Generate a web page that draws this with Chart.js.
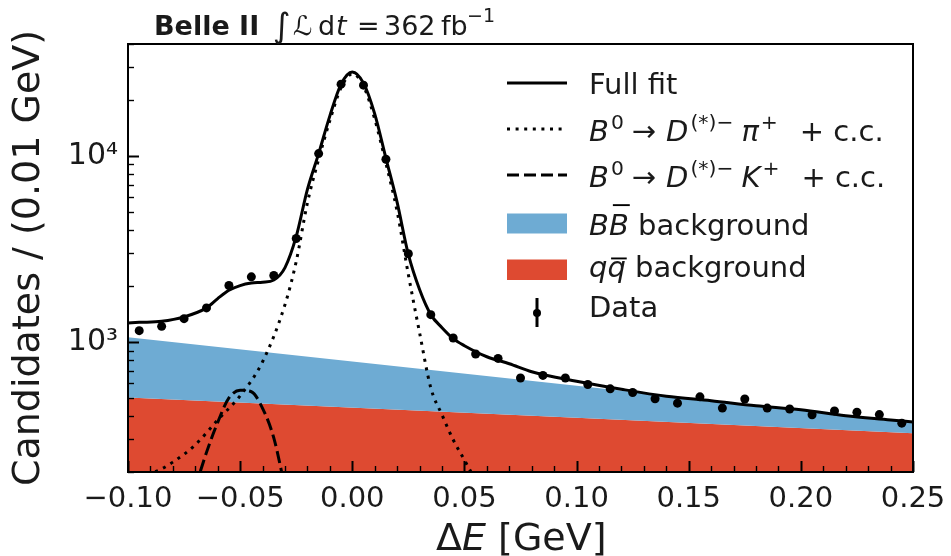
<!DOCTYPE html>
<html lang="en">
<head>
<meta charset="UTF-8">
<title>Belle II Delta E fit</title>
<script src="https://cdn.jsdelivr.net/npm/chart.js"></script>
<style>
  html, body { margin: 0; padding: 0; background: #fff; }
</style>
</head>
<body>
<canvas id="deChart" width="951" height="556"></canvas>
<script>
// Data points: bin centres in GeV and candidates per 0.01 GeV
const binCentres = [-0.095, -0.085, -0.075, -0.065, -0.055, -0.045, -0.035, -0.025, -0.015, -0.005,
                    0.005, 0.015, 0.025, 0.035, 0.045, 0.055, 0.065, 0.075, 0.085, 0.095,
                    0.105, 0.115, 0.125, 0.135, 0.145, 0.155, 0.165, 0.175, 0.185, 0.195,
                    0.205, 0.215, 0.225, 0.235, 0.245];
const dataCounts = [1151, 1214, 1335, 1525, 2011, 2240, 2276, 3602, 10300, 24340,
                    24040, 9600, 2980, 1403, 1051, 862, 816, 640, 661, 640,
                    591, 560, 535, 495, 469, 507, 441, 494, 441, 436,
                    406, 426, 419, 407, 366];

// Full fit curve
const fitX = [-0.100, -0.095, -0.085, -0.075, -0.065, -0.060, -0.055, -0.050, -0.045, -0.040,
              -0.035, -0.030, -0.025, -0.020, -0.015, -0.010, -0.005, 0.000, 0.005, 0.010,
              0.015, 0.020, 0.025, 0.030, 0.035, 0.040, 0.045, 0.050, 0.060, 0.070,
              0.080, 0.100, 0.120, 0.140, 0.160, 0.180, 0.200, 0.220, 0.240, 0.250];
const fitY = [1266, 1275, 1291, 1364, 1525, 1711, 1897, 2011, 2074, 2095,
              2153, 2511, 3693, 6616, 10300, 16430, 24340, 28300, 24640, 16840,
              9720, 5630, 2954, 1913, 1403, 1194, 1042, 955, 833, 764,
              692, 615, 557, 511, 483, 454, 432, 401, 381, 371];

// B0 -> D(*)- pi+ component
const piX = [-0.095, -0.085, -0.080, -0.070, -0.060, -0.050, -0.040, -0.030, -0.025, -0.020,
             -0.015, -0.010, -0.005, 0.000, 0.005, 0.010, 0.015, 0.020, 0.025, 0.030,
             0.035, 0.040, 0.045, 0.050, 0.055];
const piY = [186, 208, 226, 280, 381, 514, 783, 1589, 2709, 5600,
             9600, 15500, 23300, 27600, 23800, 15800, 9135, 5035, 2305, 1122,
             567, 406, 298, 232, 180];

// B0 -> D(*)- K+ component
const kX = [-0.070, -0.065, -0.060, -0.055, -0.050, -0.045, -0.040, -0.035, -0.030];
const kY = [165, 255, 370, 500, 550, 540, 440, 305, 165];

// Stacked backgrounds (top edge of each band)
const bkgX = [-0.10, 0.10, 0.25];
const qqTop = [503, 391, 323];
const bbTop = [1059, 581, 370];

const xTicks = [-0.10, -0.05, 0.00, 0.05, 0.10, 0.15, 0.20, 0.25];
const yTicks = [1000, 10000];
const yTickLabels = ['10³', '10⁴'];

const FONT = '"DejaVu Sans", sans-serif';
const BLUE = '#6eabd3';
const RED = '#de4a31';
const INK = '#1a1a1a';

const pts = (xs, ys) => xs.map((x, i) => ({ x: x, y: ys[i] }));

// draws a run of text pieces: [text, style, overline] or a number (gap in px)
function richText(ctx, x, y, parts, size) {
    let cx = x;
    parts.forEach(p => {
        if (typeof p === 'number') { cx += p; return; }
        const t = p[0], st = p[1] || '', ov = p[2];
        const sup = st.includes('s');
        const fs = sup ? size * 0.7 : size;
        ctx.font = (st.includes('i') ? 'italic ' : '') + (st.includes('b') ? 'bold ' : '') + fs + 'px ' + FONT;
        ctx.fillText(t, cx, sup ? y - size * 0.42 : y);
        const w = ctx.measureText(t).width;
        if (ov) {
            ctx.lineWidth = size * 0.065;
            ctx.beginPath();
            ctx.moveTo(cx + w * 0.2, y - ov * size);
            ctx.lineTo(cx + w * 1.05, y - ov * size);
            ctx.stroke();
        }
        cx += w;
    });
    return cx;
}

const decayText = last => [['B', 'i'], 2, ['0', 's'], 8, ['→'], 10, ['D', 'i'], 2, ['(*)−', 's'], 8,
                           [last, 'i'], 2, ['+', 's'], 22, ['+ c.c.']];

const decorations = {
    id: 'decorations',
    afterDatasetsDraw(chart) {
        const { ctx, chartArea: a, scales: { x, y } } = chart;
        ctx.save();
        ctx.strokeStyle = '#000';
        ctx.lineCap = 'butt';

        // inward ticks, bottom axis
        for (let i = 0; i <= 35; i++) {
            const v = -0.10 + i * 0.01;
            const px = Math.round(x.getPixelForValue(v)) + 0.5;
            const major = i % 5 === 0;
            ctx.lineWidth = major ? 2 : 1.4;
            ctx.beginPath();
            ctx.moveTo(px, a.bottom);
            ctx.lineTo(px, a.bottom - (major ? 11 : 6));
            ctx.stroke();
        }
        // inward ticks, left axis (log)
        for (let d = 100; d <= 10000; d *= 10) {
            for (let m = 1; m <= 9; m++) {
                const v = d * m;
                if (v < y.min || v > y.max) continue;
                const py = Math.round(y.getPixelForValue(v)) + 0.5;
                const major = m === 1;
                ctx.lineWidth = major ? 2 : 1.4;
                ctx.beginPath();
                ctx.moveTo(a.left, py);
                ctx.lineTo(a.left + (major ? 11 : 6), py);
                ctx.stroke();
            }
        }
        // frame
        ctx.lineWidth = 2;
        ctx.strokeRect(a.left, a.top, a.right - a.left, a.bottom - a.top);

        ctx.fillStyle = INK;
        ctx.textBaseline = 'alphabetic';
        ctx.textAlign = 'left';

        // heading
        ctx.font = 'bold 27px ' + FONT;
        ctx.fillText('Belle II', 154, 35);
        ctx.font = '34px ' + FONT;
        ctx.fillText('∫', 273, 37);
        ctx.font = '27px ' + FONT;
        ctx.fillText('ℒ', 293, 35);
        ctx.fillText('d', 318, 35);
        ctx.font = 'italic 27px ' + FONT;
        ctx.fillText('t', 336, 35);
        ctx.font = '27px ' + FONT;
        ctx.fillText('=', 357, 35);
        ctx.fillText('362', 384, 35);
        ctx.fillText('fb', 441, 35);
        ctx.font = '19px ' + FONT;
        ctx.fillText('−1', 467, 22);

        // x axis title
        richText(ctx, 436, 550, [['Δ'], ['E', 'i'], [' [GeV]']], 38);

        // legend
        const sx0 = 507, sx1 = 567, tx = 589, fs = 29;
        ctx.lineWidth = 3;
        ctx.strokeStyle = '#000';
        const lineSample = (yy, dash) => {
            ctx.setLineDash(dash);
            ctx.beginPath();
            ctx.moveTo(sx0, yy);
            ctx.lineTo(sx1, yy);
            ctx.stroke();
            ctx.setLineDash([]);
        };
        lineSample(83, []);
        richText(ctx, tx, 94, [['Full fit']], fs);

        lineSample(129, [3, 5.6]);
        richText(ctx, tx, 141, decayText('π'), fs);

        lineSample(175, [12, 5]);
        richText(ctx, tx, 187, decayText('K'), fs);

        ctx.fillStyle = BLUE;
        ctx.fillRect(sx0, 213.5, sx1 - sx0, 20);
        ctx.fillStyle = INK;
        richText(ctx, tx, 235, [['B', 'i'], ['B', 'i', 1.03], [' background']], fs);

        ctx.fillStyle = RED;
        ctx.fillRect(sx0, 259.5, sx1 - sx0, 20.5);
        ctx.fillStyle = INK;
        richText(ctx, tx, 277, [['q', 'i'], ['q', 'i', 0.64], [' background']], fs);

        ctx.lineWidth = 3;
        ctx.beginPath();
        ctx.moveTo(537, 298);
        ctx.lineTo(537, 327);
        ctx.stroke();
        ctx.fillStyle = '#000';
        ctx.beginPath();
        ctx.arc(537, 313, 4, 0, Math.PI * 2);
        ctx.fill();
        ctx.fillStyle = INK;
        richText(ctx, tx, 317, [['Data']], fs);

        ctx.restore();
    }
};

const ctx = document.getElementById('deChart').getContext('2d');
const deChart = new Chart(ctx, {
    type: 'line',
    data: {
        datasets: [
            {
                label: 'Data',
                data: pts(binCentres, dataCounts),
                showLine: false,
                pointRadius: 4.5,
                pointBackgroundColor: '#000',
                pointBorderWidth: 0
            },
            {
                label: 'Full fit',
                data: pts(fitX, fitY),
                borderColor: '#000',
                borderWidth: 3,
                pointRadius: 0,
                cubicInterpolationMode: 'monotone',
                fill: false
            },
            {
                label: 'B0 -> D(*)- K+ + c.c.',
                data: pts(kX, kY),
                borderColor: '#000',
                borderWidth: 3,
                borderDash: [12, 5],
                pointRadius: 0,
                cubicInterpolationMode: 'monotone',
                fill: false
            },
            {
                label: 'B0 -> D(*)- pi+ + c.c.',
                data: pts(piX, piY),
                borderColor: '#000',
                borderWidth: 3,
                borderDash: [3, 5.6],
                pointRadius: 0,
                cubicInterpolationMode: 'monotone',
                fill: false
            },
            {
                label: 'BB background',
                data: pts(bkgX, bbTop),
                borderWidth: 0,
                borderColor: BLUE,
                backgroundColor: BLUE,
                pointRadius: 0,
                fill: '+1'
            },
            {
                label: 'qq background',
                data: pts(bkgX, qqTop),
                borderWidth: 0,
                borderColor: RED,
                backgroundColor: RED,
                pointRadius: 0,
                fill: 'start'
            }
        ]
    },
    options: {
        responsive: false,
        animation: false,
        devicePixelRatio: 1,
        layout: { padding: { left: 0, right: 38, top: 44, bottom: 0 } },
        plugins: {
            legend: { display: false },
            tooltip: { enabled: false }
        },
        scales: {
            x: {
                type: 'linear',
                min: -0.10,
                max: 0.25,
                grid: { display: false, drawTicks: false, tickLength: 0 },
                border: { display: false },
                afterBuildTicks: s => { s.ticks = xTicks.map(v => ({ value: v })); },
                afterFit: s => { s.height = 84; s.paddingLeft = 0; s.paddingRight = 0; },
                ticks: {
                    autoSkip: false,
                    maxRotation: 0,
                    minRotation: 0,
                    padding: 10,
                    color: INK,
                    font: { family: FONT, size: 29 },
                    callback: v => Math.abs(v) < 1e-9 ? '0.00' : v.toFixed(2).replace('-', '−')
                }
            },
            y: {
                type: 'logarithmic',
                min: 200,
                max: 40000,
                grid: { display: false, drawTicks: false, tickLength: 0 },
                border: { display: false },
                afterBuildTicks: s => { s.ticks = yTicks.map(v => ({ value: v })); },
                afterFit: s => { s.width = 128; s.paddingTop = 0; s.paddingBottom = 0; },
                ticks: {
                    autoSkip: false,
                    padding: 10,
                    color: INK,
                    font: { family: FONT, size: 30 },
                    callback: v => yTickLabels[yTicks.indexOf(v)]
                },
                title: {
                    display: true,
                    text: 'Candidates / (0.01 GeV)',
                    color: INK,
                    font: { family: FONT, size: 38 },
                    padding: { top: 6, bottom: 0 }
                }
            }
        }
    },
    plugins: [decorations]
});
</script>
</body>
</html>
